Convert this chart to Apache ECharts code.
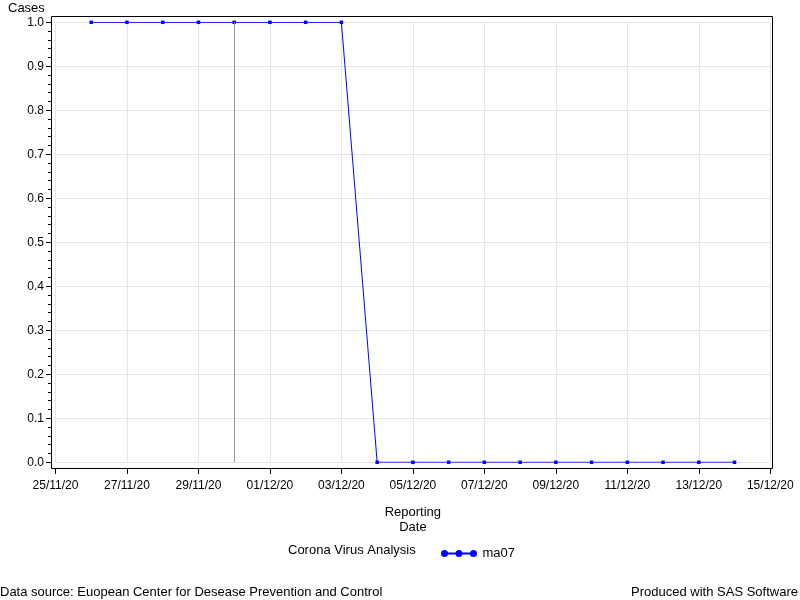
<!DOCTYPE html>
<html>
<head>
<meta charset="utf-8">
<script src="https://cdn.jsdelivr.net/npm/echarts@6/dist/echarts.min.js"></script>
<style>html,body{margin:0;padding:0;background:#fff}#c{width:800px;height:600px}</style>
</head>
<body>
<div id="c"></div>
<script>
// ---- data ----
const axisStart = '25/11/20';
const dates = ['26/11/20','27/11/20','28/11/20','29/11/20','30/11/20','01/12/20','02/12/20','03/12/20',
  '04/12/20','05/12/20','06/12/20','07/12/20','08/12/20','09/12/20','10/12/20','11/12/20','12/12/20','13/12/20','14/12/20'];
const ma07 = [1,1,1,1,1,1,1,1,0,0,0,0,0,0,0,0,0,0,0];
const refDate = '30/11/20';
const xTickLabels = ['25/11/20','27/11/20','29/11/20','01/12/20','03/12/20','05/12/20','07/12/20','09/12/20','11/12/20','13/12/20','15/12/20'];

function toDay(s){
  const p = s.split('/');
  return Date.UTC(2000+ +p[2], +p[1]-1, +p[0]) / 86400000;
}
const base = toDay(axisStart);
const seriesData = dates.map((d,i)=>[toDay(d)-base, ma07[i]]);
const font = 'Liberation Sans, Arial, sans-serif';
const txt = {fontSize:13, fontWeight:'normal', color:'#000', fontFamily:font};

const chart = echarts.init(document.getElementById('c'), null, {renderer:'canvas'});
chart.setOption({
  animation:false,
  backgroundColor:'#fff',
  textStyle:{fontFamily:font},
  title:[
    {text:'Cases', left:8, top:2, padding:0, textStyle:txt},
    {text:'Corona Virus Analysis', left:288, top:544, padding:0, textStyle:txt},
    {text:'Data source: Euopean Center for Desease Prevention and Control', left:0, top:586, padding:0, textStyle:txt},
    {text:'Produced with SAS Software', right:2, top:586, padding:0, textStyle:txt}
  ],
  legend:{
    left:441, top:547, padding:0,
    itemWidth:37, itemHeight:7,
    textStyle:{fontSize:13, color:'#000', fontFamily:font},
    data:[{name:'ma07', icon:'path://M0.5,5a3.5,3.5 0 1,0 7,0a3.5,3.5 0 1,0 -7,0zM15,5a3.5,3.5 0 1,0 7,0a3.5,3.5 0 1,0 -7,0zM29.5,5a3.5,3.5 0 1,0 7,0a3.5,3.5 0 1,0 -7,0zM4,4.1L4,5.9L33,5.9L33,4.1z'}]
  },
  grid:{left:55.5, right:29.7, top:22.3, bottom:137.7, containLabel:false},
  xAxis:{
    type:'value', min:0, max:20, interval:2, offset:5.7,
    name:'Reporting\nDate', nameLocation:'middle', nameGap:37,
    nameTextStyle:{fontSize:13, color:'#000', lineHeight:15, fontFamily:font},
    axisLine:{show:true, onZero:false, lineStyle:{color:'#000', width:1}},
    axisTick:{show:true, length:6, lineStyle:{color:'#000'}},
    axisLabel:{margin:12, fontSize:12, color:'#000', fontFamily:font,
      formatter:v=>xTickLabels[Math.round(v/2)] || ''},
    splitLine:{show:true, lineStyle:{color:'#e4e4e4', width:1}}
  },
  yAxis:{
    type:'value', min:0, max:1, interval:0.1, offset:4.5,
    axisLine:{show:true, onZero:false, lineStyle:{color:'#000', width:1}},
    axisTick:{show:true, length:5, lineStyle:{color:'#000'}},
    minorTick:{show:true, splitNumber:5, length:3, lineStyle:{color:'#000'}},
    axisLabel:{margin:7, fontSize:12, color:'#000', fontFamily:font, formatter:v=>v.toFixed(1)},
    splitLine:{show:true, lineStyle:{color:'#e4e4e4', width:1}}
  },
  graphic:[{type:'rect', z:100, silent:true,
    shape:{x:51.5, y:16.5, width:721, height:452},
    style:{fill:'none', stroke:'#000', lineWidth:1}}],
  series:[{
    name:'ma07', type:'line', data:seriesData,
    symbol:'rect', symbolSize:3.5, showSymbol:true,
    lineStyle:{color:'#0000ff', width:1},
    itemStyle:{color:'#0000ff'},
    markLine:{silent:true, symbol:'none', label:{show:false},
      lineStyle:{color:'#999', type:'solid', width:1},
      data:[{xAxis: toDay(refDate)-base}]}
  }]
});
</script>
</body>
</html>
